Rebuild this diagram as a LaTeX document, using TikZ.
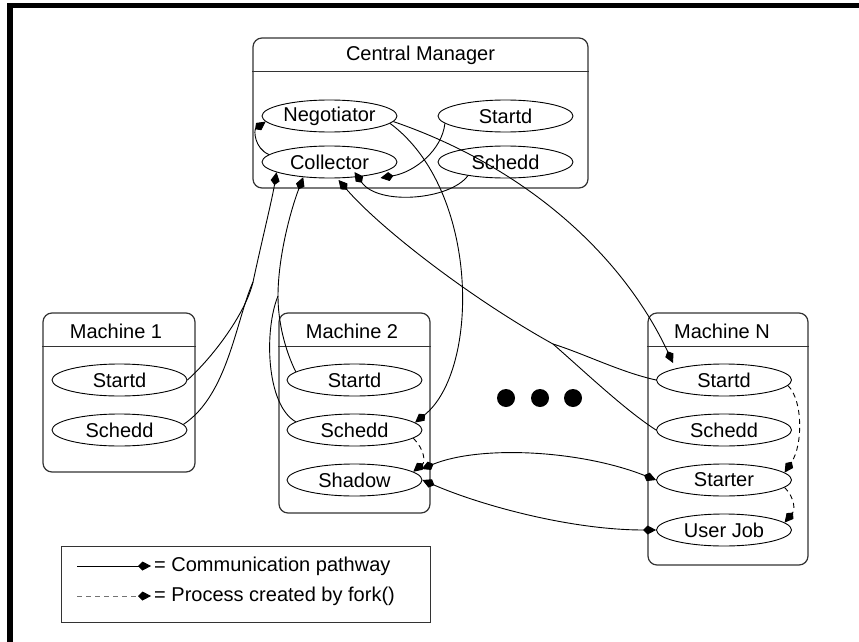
\documentclass[tikz,border=0pt]{standalone}
\usepackage{fontspec}
\setmainfont{Liberation Sans}
\usetikzlibrary{arrows.meta,shapes.geometric,calc}
\begin{document}
\begin{tikzpicture}[x=1pt,y=-1pt,
  every node/.style={font=\fontsize{20}{24}\selectfont},
  proc/.style={draw, ellipse, minimum width=135pt, minimum height=32pt, inner sep=0pt, line width=0.9pt},
  mbox/.style={draw=black!80, rounded corners=9pt, line width=1.2pt, inner sep=0pt},
  ttl/.style={inner sep=0pt},
  sep/.style={draw=black!80, line width=1.2pt},
  tip/.style={-{Kite[length=13pt,width=9pt,inset=4.5pt,color=black]}},
  comm/.style={line width=0.9pt, tip},
  comm2/.style={line width=0.9pt, {Kite[length=13pt,width=9pt,inset=4.5pt]}-{Kite[length=13pt,width=9pt,inset=4.5pt]}},
  fork/.style={comm, dash pattern=on 5pt off 4pt},
  plain/.style={line width=0.9pt},
  dot/.style={circle, fill, minimum size=18pt, inner sep=0pt}
]
\useasboundingbox (0,0) rectangle (859,642);
\fill[white] (0,0) rectangle (859,642);
\draw[line width=5.5pt] (10,660) -- (10,5.3) -- (870,5.3);

% ---------- boxes ----------
\node[mbox, minimum width=335pt, minimum height=150pt] (cm) at (420.5,113) {};
\draw[sep] ([yshift=-34pt]cm.north west) -- ([yshift=-34pt]cm.north east);
\node[ttl] (cmt) at (420.5,55) {Central Manager};

\node[mbox, minimum width=152pt, minimum height=159pt] (m1) at (119,392.5) {};
\draw[sep] ([yshift=-34pt]m1.north west) -- ([yshift=-34pt]m1.north east);
\node[ttl] (m1t) at (116,331) {Machine 1};

\node[mbox, minimum width=151pt, minimum height=200pt] (m2) at (354.5,413) {};
\draw[sep] ([yshift=-34pt]m2.north west) -- ([yshift=-34pt]m2.north east);
\node[ttl] (m2t) at (352,331) {Machine 2};

\node[mbox, minimum width=160pt, minimum height=252pt] (mN) at (728,439) {};
\draw[sep] ([yshift=-34pt]mN.north west) -- ([yshift=-34pt]mN.north east);
\node[ttl] (mNt) at (722,331) {Machine N};

% ---------- processes ----------
\node[proc] (neg) at (329.5,116) {Negotiator};
\node[proc] (cmstartd) at (505.5,116) {Startd};
\node[proc] (coll) at (329.5,162) {Collector};
\node[proc] (cmschedd) at (505.5,162) {Schedd};

\node[proc] (startd1) at (119.5,380) {Startd};
\node[proc] (schedd1) at (119.5,430) {Schedd};

\node[proc] (startd2) at (354.5,380) {Startd};
\node[proc] (schedd2) at (354.5,430) {Schedd};
\node[proc] (shadow) at (354.5,480) {Shadow};

\node[proc] (startdN) at (724,380) {Startd};
\node[proc] (scheddN) at (724,430) {Schedd};
\node[proc] (starter) at (724,480) {Starter};
\node[proc] (userjob) at (724,530) {User Job};

% ---------- dots ----------
\node[dot] (d1) at (506,398) {};
\node[dot] (d2) at (540,398) {};
\node[dot] (d3) at (573,398) {};

% ---------- connectors inside central manager ----------
\draw[comm] (coll.173) .. controls (254,148) and (254,130) .. (neg.185);
\draw[comm] (cmstartd.187) .. controls (442,150) and (415,172) .. ($(coll)+(51pt,-16pt)$);
\draw[comm] (cmschedd.200) .. controls (450,200) and (378,206) .. ($(coll)+(25pt,-10pt)$);

% ---------- machine 1 -> collector ----------
\coordinate (m1j) at (253,282);
\draw[plain] (startd1.east) .. controls (215,355) and (246,312) .. (m1j);
\draw[plain] (schedd1.5) .. controls (228,395) and (236,320) .. (m1j);
\draw[comm] (m1j) .. controls (262,240) and (272,200) .. (coll.191);

% ---------- machine 2 -> collector ----------
\coordinate (m2j) at (278,296);
\draw[plain] (startd2.172) .. controls (285,350) and (278,322) .. (m2j);
\draw[plain] (schedd2.172) .. controls (266,405) and (264,330) .. (m2j);
\draw[comm] (m2j) .. controls (278,258) and (290,212) .. (coll.210);

% ---------- machine N -> collector ----------
\coordinate (mNj) at (553,344);
\draw[plain] (startdN.west) .. controls (620,372) and (585,354) .. (mNj);
\draw[plain] (scheddN.west) .. controls (625,410) and (585,372) .. (mNj);
\draw[comm] (mNj) .. controls (470,298) and (380,228) .. ($(coll)+(9pt,-18pt)$);

% ---------- negotiator ----------
\draw[comm] (neg.-7) .. controls (480,190) and (480,370) .. (schedd2.7);
\draw[comm] (neg.-5) .. controls (520,165) and (620,250) .. ($(startdN)+(-51pt,17pt)$);

% ---------- shadow / starter / user job ----------
\draw[comm2] ($(shadow)+(67pt,11pt)$) .. controls (480,445) and (580,450) .. (starter.west);
\draw[comm2] (shadow.east) .. controls (480,505) and (570,530) .. (userjob.west);

% ---------- fork ----------
\draw[fork] (schedd2.-8) .. controls (425,450) and (425,462) .. (shadow.8);
\draw[fork] (startdN.-5) .. controls (803,400) and (803,445) .. (starter.7);
\draw[fork] (starter.-7) .. controls (795,498) and (795,510) .. (userjob.7);

% ---------- legend ----------
\node[draw=black!80, line width=1pt, minimum width=369pt, minimum height=76pt, inner sep=0pt] (leg) at (245.5,584) {};
\coordinate (l1s) at (77,566);
\node[anchor=west, inner sep=0pt] (l1) at (154,566) {= Communication pathway};
\draw[comm] (l1s) -- ([xshift=-3pt]l1.west);
\coordinate (l2s) at (77,596);
\node[anchor=west, inner sep=0pt] (l2) at (154,596) {= Process created by fork()};
\draw[line width=0.9pt, draw=black!55, dash pattern=on 5pt off 4pt, tip] (l2s) -- ([xshift=-3pt]l2.west);
\end{tikzpicture}
\end{document}
